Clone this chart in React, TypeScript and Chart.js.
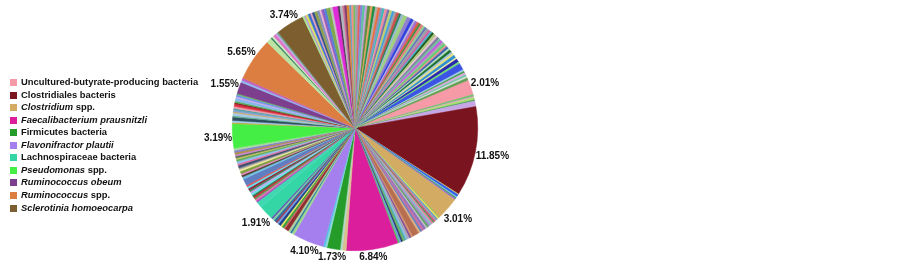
import React, { useEffect, useRef } from 'react';
import { Chart, registerables } from 'chart.js';

Chart.register(...registerables);

// Named taxa (clockwise from the pink slice) and their percentages
const categories = [
  'Uncultured-butyrate-producing bacteria',
  'Clostridiales bacteris',
  'Clostridium spp.',
  'Faecalibacterium prausnitzli',
  'Firmicutes bacteria',
  'Flavonifractor plautii',
  'Lachnospiraceae bacteria',
  'Pseudomonas spp.',
  'Ruminococcus obeum',
  'Ruminococcus spp.',
  'Sclerotinia homoeocarpa',
];
const italicParts = [
  '', '', 'Clostridium', 'Faecalibacterium prausnitzli', '', 'Flavonifractor plautii', '',
  'Pseudomonas', 'Ruminococcus obeum', 'Ruminococcus', 'Sclerotinia homoeocarpa',
];
const namedValues = [2.01, 11.85, 3.01, 6.84, 1.73, 4.1, 1.91, 3.19, 1.55, 5.65, 3.74];
const namedColors = [
  '#F59AA6', '#7A141E', '#D4AB63', '#DA1E9C', '#259B2A', '#A57FEE',
  '#35D6A6', '#45EE45', '#7D3E8E', '#DC7E42', '#7D5E2E',
];

// Unnamed small taxa following each named slice (clockwise)
const otherValues: number[][] = [
  [0.25, 0.15, 0.3, 0.15, 0.75],
  [0.1, 0.3, 0.15, 0.15, 0.2],
  [0.15, 0.2, 0.15, 0.25, 0.2, 0.15, 0.25, 0.2, 0.3, 0.25, 0.2, 0.3, 0.3, 0.25, 0.25,
    0.9, 0.25, 0.2, 0.3, 0.25, 0.2, 0.25, 0.2, 0.25, 0.2],
  [0.5, 0.3],
  [0.25, 0.25],
  [0.35, 0.25, 0.3, 0.5, 0.2, 0.3, 0.2, 0.35, 0.25, 0.2, 0.3, 0.25, 0.25],
  [0.8, 0.2, 0.25, 0.2, 0.25, 0.2, 0.3, 0.25, 0.2, 0.3, 0.25, 0.2, 0.9, 0.3, 0.25, 0.2,
    0.35, 0.25, 0.2, 0.35, 0.25, 0.3, 0.25, 0.2, 0.25, 0.2, 0.3, 0.25, 0.3],
  [0.2, 0.25, 0.45, 0.2, 0.3, 0.2, 0.25, 0.2, 0.25, 0.3, 0.2, 0.2, 0.4, 0.2, 0.25, 0.15],
  [0.3, 0.3],
  [0.7, 0.2, 0.25, 0.35, 0.25, 0.2],
  [0.25, 0.2, 0.3, 0.35, 0.25, 0.3, 0.4, 0.3, 0.25, 0.35,
    0.3, 0.55, 0.3, 0.7, 0.25, 0.35, 0.25, 0.3, 0.35, 0.25,
    0.3, 0.25, 0.35, 0.3, 0.25, 0.35, 0.3, 0.4, 0.3, 0.35,
    0.3, 0.35, 0.3, 0.3, 0.35, 0.3, 0.35, 0.3, 0.3, 0.35, 0.3, 0.3,
    0.55, 0.52,
    0.4, 0.25, 0.3, 0.3, 0.25, 0.35, 0.3, 0.25, 0.35, 0.3,
    0.25, 0.3, 0.35, 0.25, 0.3, 0.3, 0.35, 0.25, 0.3, 0.25,
    0.3, 0.25, 0.35, 0.25, 0.3, 0.4, 0.2, 0.45, 0.25, 0.9,
    0.25, 0.2, 0.3, 0.25, 0.2, 0.3],
];
const otherColors: string[][] = [
  ['#6FBF6F', '#E8A0C8', '#A8E070', '#4FA060', '#C7A6E6'],
  ['#E0D070', '#2A5CE8', '#7FB0F0', '#3FAF4F', '#9A6ACF'],
  ['#8FBF5F', '#F0E050', '#4F8FE0', '#9FA0A8', '#E04A7A', '#2F9F4F', '#E87FA0', '#7FC8C0',
    '#A08FD0', '#5F9F5F', '#C0C0C8', '#8F6FBF', '#C86F9F', '#5F7FBF', '#E0B080',
    '#B86F50', '#D09070', '#7A3F9A', '#A8A8B0', '#88B8E8', '#40B0A0', '#6FAF5F', '#1F2F6F',
    '#70A0D8', '#50C060'],
  ['#D8C08F', '#B0D8C8'],
  ['#8FD8D8', '#50C0E0'],
  ['#9FD88F', '#2F7F9F', '#B0D0A0', '#8E2E30', '#D06060', '#3FA03F', '#F0F060', '#1F3F8F',
    '#6F9FDF', '#9F2F4F', '#2F6F9F', '#7FD0A0', '#5F5FAF'],
  ['#3FD8B0', '#9F4FBF', '#E070B0', '#5FA04F', '#C0303F', '#1F7F3F', '#6FDFEF', '#C8A0E8',
    '#2F8F5F', '#8F2F3F', '#60E0F0', '#E05050', '#5F7EC2', '#6FC0E0', '#4F3F2F', '#E888C8',
    '#7F9F3F', '#F0E8A0', '#A0A0A0', '#3F4F6F', '#E06FA0', '#8FC0F0', '#5FAF5F', '#C8C060',
    '#4F6F4F', '#D080E0', '#B08F50', '#7F7FCF', '#A8D8A0'],
  ['#B8B040', '#9FC8F0', '#2E4E5E', '#60B090', '#A8C8F0', '#C8B070', '#7FA0D8', '#50A0A0',
    '#E8A0B0', '#E0303F', '#8F1F2F', '#4FB04F', '#88B8E8', '#C8A8E8', '#6F8FEF', '#60C060'],
  ['#8FB8F0', '#C060C0'],
  ['#BDE3A3', '#2F7F5F', '#D0E8C0', '#E070C8', '#C0A8E0', '#5F9F7F'],
  ['#A8E890', '#B890D8', '#D8E060', '#3F6FCF', '#E8A0C0', '#2F4F8F', '#8FA04F', '#7F8FBF',
    '#F0B0D0', '#8F5FBF', '#4F7FDF', '#7FA84F', '#C0C0C0', '#E02CD8', '#4F2F4F', '#B0B8C0',
    '#D07090', '#7F3F6F', '#E08830', '#5FA0D0', '#F09080', '#70C060', '#A0A0B0', '#E06060',
    '#8080E0', '#60C0A0', '#C8A0E0', '#5F8F3F', '#E8A060', '#1F8F3F',
    '#B0B0B0', '#E87040', '#8F8FBF', '#40B8B8', '#F08FA0', '#6F6FAF', '#C0D070', '#3F9FDF',
    '#A0A0A0', '#D05050', '#2F7F4F', '#98B8D8',
    '#9FD07F', '#8F7FCF',
    '#2F3FE0', '#B8B8D8', '#A06FD0', '#E05A4A', '#3F8F3F', '#E87F7F', '#8FCF8F', '#5F6FBF',
    '#9F9FA8', '#D060A0', '#4FAFCF', '#1F5F1F', '#B0C880', '#E8C0D8', '#7F7F9F', '#6FBF9F',
    '#C060E0', '#A8A8A8', '#5FD070', '#E09090', '#3F5FAF', '#B0E0C0', '#1F6F2F', '#9FC0E0',
    '#E8E080', '#2F8FCF', '#F0F0A0', '#2A2AB0', '#70E070', '#3C54E4', '#A0C8E8', '#40A040',
    '#D8A8E0', '#70C8A0', '#E0E0E8', '#5F9F4F'],
];

const FONT = '"Liberation Sans", Arial, Helvetica, sans-serif';

export default function App() {
  const canvasRef = useRef<HTMLCanvasElement | null>(null);

  useEffect(() => {
    const labels: string[] = [];
    const values: number[] = [];
    const colors: string[] = [];
    categories.forEach((name, i) => {
      labels.push(name);
      values.push(namedValues[i]);
      colors.push(namedColors[i]);
      otherValues[i].forEach((v, j) => {
        labels.push('');
        values.push(v);
        colors.push(otherColors[i][j] || '#A0A0A0');
      });
    });

    const pctLabels = {
      id: 'pctLabels',
      afterDatasetsDraw(chart: any) {
        const ctx = chart.ctx;
        const meta = chart.getDatasetMeta(0);
        ctx.save();
        ctx.font = `bold 10px ${FONT}`;
        ctx.fillStyle = '#111';
        ctx.textAlign = 'center';
        ctx.textBaseline = 'middle';
        meta.data.forEach((arc: any, i: number) => {
          if (!labels[i]) return;
          const p = arc.getProps(['x', 'y', 'startAngle', 'endAngle', 'outerRadius'], true);
          const a = (p.startAngle + p.endAngle) / 2;
          const text = values[i].toFixed(2) + '%';
          const w = ctx.measureText(text).width;
          const h = 10;
          const c = Math.cos(a);
          const s = Math.sin(a);
          const r = p.outerRadius + Math.abs(c) * w / 2 + Math.abs(s) * h / 2;
          ctx.fillText(text, p.x + r * c, p.y + r * s + 1);
        });
        ctx.restore();
      },
    };

    const sideLegend = {
      id: 'sideLegend',
      afterDraw(chart: any) {
        const ctx = chart.ctx;
        ctx.save();
        ctx.textBaseline = 'middle';
        ctx.textAlign = 'left';
        categories.forEach((name, i) => {
          const y = 82.5 + i * 12.55;
          ctx.fillStyle = namedColors[i];
          ctx.fillRect(10, Math.round(y - 3.5), 7, 7);
          ctx.fillStyle = '#111';
          let x = 21;
          const it = italicParts[i];
          let rest = name;
          if (it && name.startsWith(it)) {
            ctx.font = `italic bold 9.4px ${FONT}`;
            ctx.fillText(it, x, y);
            x += ctx.measureText(it).width;
            rest = name.slice(it.length);
          }
          if (rest) {
            ctx.font = `bold 9.4px ${FONT}`;
            ctx.fillText(rest, x, y);
          }
        });
        ctx.restore();
      },
    };

    const chart = new Chart(canvasRef.current as HTMLCanvasElement, {
      type: 'pie',
      data: {
        labels,
        datasets: [
          {
            data: values,
            backgroundColor: colors,
            borderColor: colors,
            borderWidth: 0.5,
          },
        ],
      },
      options: {
        responsive: false,
        animation: false,
        devicePixelRatio: 1,
        events: [],
        rotation: 67,
        layout: { padding: { left: 232, right: 425, top: 5, bottom: 15 } },
        plugins: {
          legend: { display: false },
          tooltip: { enabled: false },
        },
      },
      plugins: [pctLabels, sideLegend],
    });
    return () => chart.destroy();
  }, []);

  return (
    <div style={{ position: 'absolute', left: 0, top: 0, width: 903, height: 266, background: '#fff' }}>
      <canvas ref={canvasRef} width={903} height={266} style={{ display: 'block' }} />
    </div>
  );
}
